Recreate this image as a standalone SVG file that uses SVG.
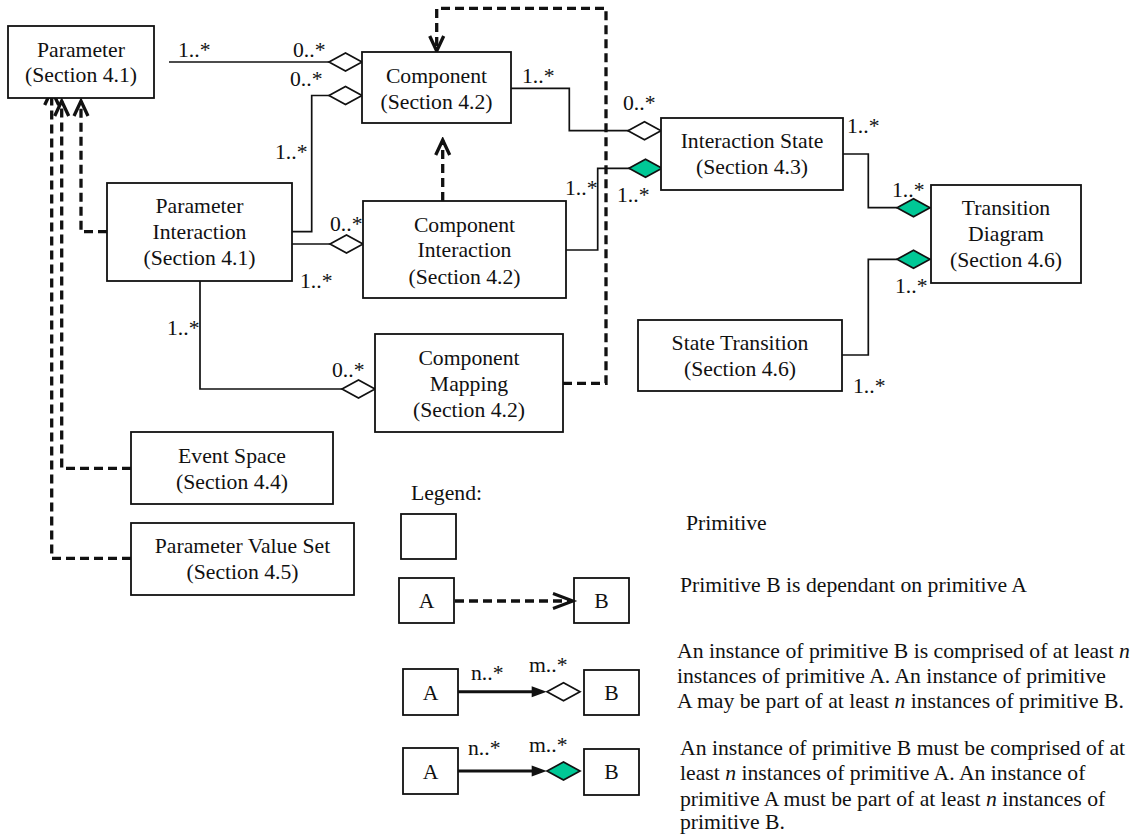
<svg xmlns="http://www.w3.org/2000/svg" xmlns:xlink="http://www.w3.org/1999/xlink" width="1141" height="840" viewBox="0 0 1141 840">
  <style>
    text { font-family: "Liberation Serif", "Times New Roman", serif; font-size: 21.7px; fill: #111; }
    .c { text-anchor: middle; }
    .box { fill: #fff; stroke: #111; stroke-width: 1.8; }
    .assoc { fill: none; stroke: #111; stroke-width: 1.7; }
    .dep { fill: none; stroke: #111; stroke-width: 3.3; stroke-dasharray: 9 5; }
    .open { fill: #fff; stroke: #111; stroke-width: 1.7; }
    .filled { fill: #00c896; stroke: #111; stroke-width: 1.7; }
    .thick { fill: none; stroke: #111; stroke-width: 3; }
  </style>
  <defs>
    <!-- aggregation diamonds, right tip at the origin -->
    <path id="dia" d="M0,0 L-16.5,-9 L-33,0 L-16.5,9 Z"/>
    <!-- open stick arrowhead for dependency lines -->
    <marker id="dep-head" viewBox="-18 -10 21 20" refX="0" refY="0" markerWidth="21" markerHeight="20" markerUnits="userSpaceOnUse" orient="auto">
      <path d="M-15,-7 L0,0 L-15,7" fill="none" stroke="#111" stroke-width="3.3" stroke-dasharray="none"/>
    </marker>
  </defs>

  <rect width="1141" height="840" fill="#fff"/>

  <!-- connectors -->
  <g id="connectors">
    <!-- Parameter to Component -->
    <path class="assoc" d="M169,62 H330"/>
    <use xlink:href="#dia" class="open" x="362" y="62"/>
    <!-- Parameter Interaction to Component -->
    <path class="assoc" d="M292,231.7 H311.7 V95.5 H330"/>
    <use xlink:href="#dia" class="open" x="362" y="95.5"/>
    <!-- Parameter Interaction to Component Interaction -->
    <path class="assoc" d="M292,244 H331"/>
    <use xlink:href="#dia" class="open" x="363" y="244"/>
    <!-- Parameter Interaction to Component Mapping -->
    <path class="assoc" d="M200,281 V389 H343"/>
    <use xlink:href="#dia" class="open" x="375" y="389"/>
    <!-- Component to Interaction State -->
    <path class="assoc" d="M511,88.3 H569.3 V130.7 H629"/>
    <use xlink:href="#dia" class="open" x="661" y="130.7"/>
    <!-- Component Interaction to Interaction State -->
    <path class="assoc" d="M566,250 H597.7 V168.3 H630"/>
    <use xlink:href="#dia" class="filled" x="662" y="168.3"/>
    <!-- Interaction State to Transition Diagram -->
    <path class="assoc" d="M843,154 H868.3 V207.7 H897"/>
    <use xlink:href="#dia" class="filled" x="930" y="207.7"/>
    <!-- State Transition to Transition Diagram -->
    <path class="assoc" d="M842,355 H868.3 V259.3 H897"/>
    <use xlink:href="#dia" class="filled" x="930" y="259.3"/>

    <!-- dependencies -->
    <path class="dep" d="M563,383.3 H606 V8.3 H436.7 V51" marker-end="url(#dep-head)"/>
    <path class="dep" d="M442.7,201 V140" marker-end="url(#dep-head)"/>
    <path class="dep" d="M107,231.7 H81 V101" marker-end="url(#dep-head)"/>
    <path class="dep" d="M131,468.3 H61.7 V101" marker-end="url(#dep-head)"/>
    <path class="dep" d="M131,558.3 H51.7 V90" marker-end="url(#dep-head)"/>

    <!-- multiplicities -->
    <text x="178" y="57">1..*</text>
    <text x="293" y="57">0..*</text>
    <text x="290" y="86">0..*</text>
    <text x="275" y="159">1..*</text>
    <text x="330" y="231">0..*</text>
    <text x="300" y="288">1..*</text>
    <text x="167" y="335">1..*</text>
    <text x="332" y="377">0..*</text>
    <text x="522" y="83">1..*</text>
    <text x="623" y="110">0..*</text>
    <text x="565" y="195">1..*</text>
    <text x="617" y="202">1..*</text>
    <text x="847" y="133">1..*</text>
    <text x="892" y="197">1..*</text>
    <text x="895" y="293">1..*</text>
    <text x="853" y="393">1..*</text>
  </g>

  <!-- nodes -->
  <g id="parameter">
    <rect class="box" x="8" y="26" width="146" height="72"/>
    <text class="c" x="81" y="57">Parameter</text>
    <text class="c" x="81" y="82">(Section 4.1)</text>
  </g>
  <g id="component">
    <rect class="box" x="362" y="52" width="149" height="71"/>
    <text class="c" x="436.5" y="83">Component</text>
    <text class="c" x="436.5" y="109">(Section 4.2)</text>
  </g>
  <g id="interaction-state">
    <rect class="box" x="661" y="118" width="182" height="72"/>
    <text class="c" x="752" y="148">Interaction State</text>
    <text class="c" x="752" y="174">(Section 4.3)</text>
  </g>
  <g id="transition-diagram">
    <rect class="box" x="931" y="185" width="150" height="98"/>
    <text class="c" x="1006" y="215">Transition</text>
    <text class="c" x="1006" y="241">Diagram</text>
    <text class="c" x="1006" y="267">(Section 4.6)</text>
  </g>
  <g id="state-transition">
    <rect class="box" x="638" y="320" width="204" height="71"/>
    <text class="c" x="740" y="350">State Transition</text>
    <text class="c" x="740" y="376">(Section 4.6)</text>
  </g>
  <g id="parameter-interaction">
    <rect class="box" x="107" y="183" width="185" height="98"/>
    <text class="c" x="199.5" y="213">Parameter</text>
    <text class="c" x="199.5" y="239">Interaction</text>
    <text class="c" x="199.5" y="265">(Section 4.1)</text>
  </g>
  <g id="component-interaction">
    <rect class="box" x="363" y="201" width="203" height="97"/>
    <text class="c" x="464.5" y="232">Component</text>
    <text class="c" x="464.5" y="257">Interaction</text>
    <text class="c" x="464.5" y="284">(Section 4.2)</text>
  </g>
  <g id="component-mapping">
    <rect class="box" x="375" y="334" width="188" height="98"/>
    <text class="c" x="469" y="365">Component</text>
    <text class="c" x="469" y="391">Mapping</text>
    <text class="c" x="469" y="417">(Section 4.2)</text>
  </g>
  <g id="event-space">
    <rect class="box" x="131" y="432" width="202" height="72"/>
    <text class="c" x="232" y="463">Event Space</text>
    <text class="c" x="232" y="489">(Section 4.4)</text>
  </g>
  <g id="parameter-value-set">
    <rect class="box" x="131" y="523" width="223" height="72"/>
    <text class="c" x="242.5" y="553">Parameter Value Set</text>
    <text class="c" x="242.5" y="579">(Section 4.5)</text>
  </g>

  <!-- legend -->
  <g id="legend">
    <text x="411" y="500">Legend:</text>

    <rect class="box" x="401" y="514" width="55" height="45"/>
    <text x="686" y="530">Primitive</text>

    <rect class="box" x="399" y="578" width="55" height="45"/>
    <text class="c" x="426.5" y="608">A</text>
    <rect class="box" x="574" y="578" width="55" height="45"/>
    <text class="c" x="601.5" y="608">B</text>
    <path class="dep" d="M455,601 H571"/>
    <path class="thick" d="M553,593.5 L573,601 L553,608.5" stroke-width="3.3"/>
    <text x="680" y="592">Primitive B is dependant on primitive A</text>

    <rect class="box" x="403" y="669" width="55" height="46"/>
    <text class="c" x="430.5" y="700">A</text>
    <rect class="box" x="584" y="670" width="55" height="45"/>
    <text class="c" x="611.5" y="700">B</text>
    <path class="thick" d="M458,691.7 H533"/>
    <polygon points="531.7,686.2 546.7,691.7 531.7,697.2" fill="#111"/>
    <use xlink:href="#dia" class="open" x="580" y="691.7"/>
    <text x="471" y="680">n..*</text>
    <text x="529" y="672">m..*</text>
    <text x="677" y="658">An instance of primitive B is comprised of at least <tspan font-style="italic">n</tspan></text>
    <text x="677" y="683">instances of primitive A. An instance of primitive</text>
    <text x="677" y="708">A may be part of at least <tspan font-style="italic">n</tspan> instances of primitive B.</text>

    <rect class="box" x="403" y="748" width="55" height="46"/>
    <text class="c" x="430.5" y="779">A</text>
    <rect class="box" x="584" y="749" width="55" height="46"/>
    <text class="c" x="611.5" y="779">B</text>
    <path class="thick" d="M458,771 H533"/>
    <polygon points="531.7,765.5 546.7,771 531.7,776.5" fill="#111"/>
    <use xlink:href="#dia" class="filled" x="580" y="771"/>
    <text x="468" y="755">n..*</text>
    <text x="529" y="752">m..*</text>
    <text x="680" y="755">An instance of primitive B must be comprised of at</text>
    <text x="680" y="780">least <tspan font-style="italic">n</tspan> instances of primitive A. An instance of</text>
    <text x="680" y="806">primitive A must be part of at least <tspan font-style="italic">n</tspan> instances of</text>
    <text x="680" y="829">primitive B.</text>
  </g>
</svg>
